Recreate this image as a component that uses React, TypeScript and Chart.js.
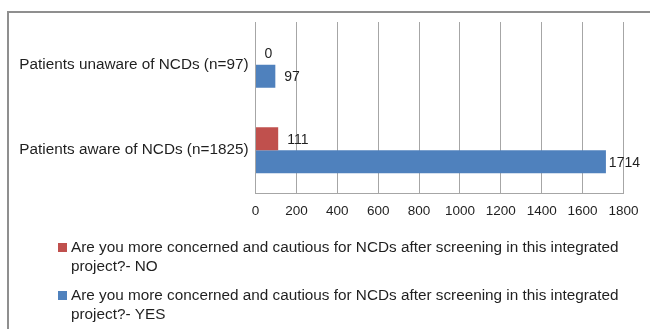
import React, { useEffect, useRef } from "react";
import { Chart, registerables } from "chart.js";

Chart.register(...registerables);

const FONT = '"Liberation Sans", Arial, Helvetica, sans-serif';

// Survey groups shown on the category axis
const categories = [
  "Patients unaware of NCDs (n=97)",
  "Patients aware of NCDs (n=1825)",
];

// Answers per group
const noValues = [0, 111];
const yesValues = [97, 1714];

const seriesLabels = [
  "Are you more concerned and cautious for NCDs after screening in this integrated project?- NO",
  "Are you more concerned and cautious for NCDs after screening in this integrated project?- YES",
];

const seriesColors = ["#C0504D", "#4F81BD"];

// Value axis ticks
const xTicks = [0, 200, 400, 600, 800, 1000, 1200, 1400, 1600, 1800];

const GRID = "#a6a6a6";
const TEXT = "#1f1f1f";

// Prints each bar's value just past its end
const valueLabels = {
  id: "valueLabels",
  afterDatasetsDraw(chart: any) {
    const ctx = chart.ctx;
    ctx.save();
    ctx.font = `14px ${FONT}`;
    ctx.fillStyle = TEXT;
    ctx.textBaseline = "middle";
    ctx.textAlign = "left";
    chart.data.datasets.forEach((ds: any, i: number) => {
      const meta = chart.getDatasetMeta(i);
      meta.data.forEach((el: any, j: number) => {
        const text = String(ds.data[j]);
        const w = ctx.measureText(text).width;
        const x = Math.min(el.x + 9, chart.width - 10 - w);
        ctx.fillText(text, x, el.y + 1);
      });
    });
    ctx.restore();
  },
};

// Stacked, word-wrapped legend below the plot
const wrappedLegend = {
  id: "wrappedLegend",
  afterDraw(chart: any) {
    const ctx = chart.ctx;
    ctx.save();
    ctx.font = `15.3px ${FONT}`;
    ctx.textBaseline = "middle";
    ctx.textAlign = "left";
    const textX = 71;
    const maxW = chart.width - textX - 15;
    const starts = [248, 296];
    const lineH = 19;
    chart.data.datasets.forEach((ds: any, i: number) => {
      const words = String(ds.label).split(" ");
      const lines: string[] = [];
      let cur = "";
      words.forEach((w) => {
        const t = cur ? cur + " " + w : w;
        if (ctx.measureText(t).width > maxW && cur) {
          lines.push(cur);
          cur = w;
        } else cur = t;
      });
      if (cur) lines.push(cur);
      const y0 = starts[i];
      ctx.fillStyle = ds.backgroundColor;
      ctx.fillRect(58, y0 - 5, 9, 9);
      ctx.fillStyle = TEXT;
      lines.forEach((ln, k) => ctx.fillText(ln, textX, y0 + k * lineH));
    });
    ctx.restore();
  },
};

export default function App() {
  const ref = useRef<HTMLCanvasElement | null>(null);

  useEffect(() => {
    if (!ref.current) return;
    const chart = new Chart(ref.current, {
      type: "bar",
      data: {
        labels: categories,
        datasets: [
          { label: seriesLabels[0], data: noValues, backgroundColor: seriesColors[0] },
          { label: seriesLabels[1], data: yesValues, backgroundColor: seriesColors[1] },
        ],
      },
      options: {
        indexAxis: "y",
        responsive: false,
        animation: false,
        devicePixelRatio: 1,
        layout: { padding: { left: 0, top: 22, right: 26.5, bottom: 0 } },
        datasets: {
          bar: { categoryPercentage: 0.54, barPercentage: 1 },
        } as any,
        plugins: {
          legend: { display: false },
          tooltip: { enabled: false },
        },
        scales: {
          x: {
            min: 0,
            max: 1800,
            afterBuildTicks: (s: any) => {
              s.ticks = xTicks.map((v) => ({ value: v }));
            },
            afterFit: (s: any) => {
              s.height = 136;
            },
            grid: { color: GRID, lineWidth: 1, drawTicks: false },
            border: { display: true, color: GRID, width: 1 },
            ticks: {
              color: TEXT,
              font: { family: FONT, size: 13.5 },
              padding: 10,
              maxRotation: 0,
              autoSkip: false,
              callback: (v: any) => String(v),
            },
          },
          y: {
            afterFit: (s: any) => {
              s.width = 255.5;
            },
            grid: { display: false, drawTicks: false },
            border: { display: true, color: GRID, width: 1 },
            ticks: {
              color: TEXT,
              font: { family: FONT, size: 15.3 },
              padding: 7,
            },
          },
        },
      },
      plugins: [valueLabels, wrappedLegend],
    });
    return () => chart.destroy();
  }, []);

  return (
    <div
      style={{
        position: "fixed",
        left: 0,
        top: 0,
        width: 650,
        height: 329,
        overflow: "hidden",
        background: "#fff",
      }}
    >
      <div
        style={{
          position: "absolute",
          left: 7,
          top: 11,
          width: 700,
          height: 400,
          border: "2px solid #8f8f8f",
          boxSizing: "border-box",
        }}
      />
      <canvas
        ref={ref}
        width={650}
        height={329}
        style={{ position: "absolute", left: 0, top: 0, width: 650, height: 329 }}
      />
    </div>
  );
}
